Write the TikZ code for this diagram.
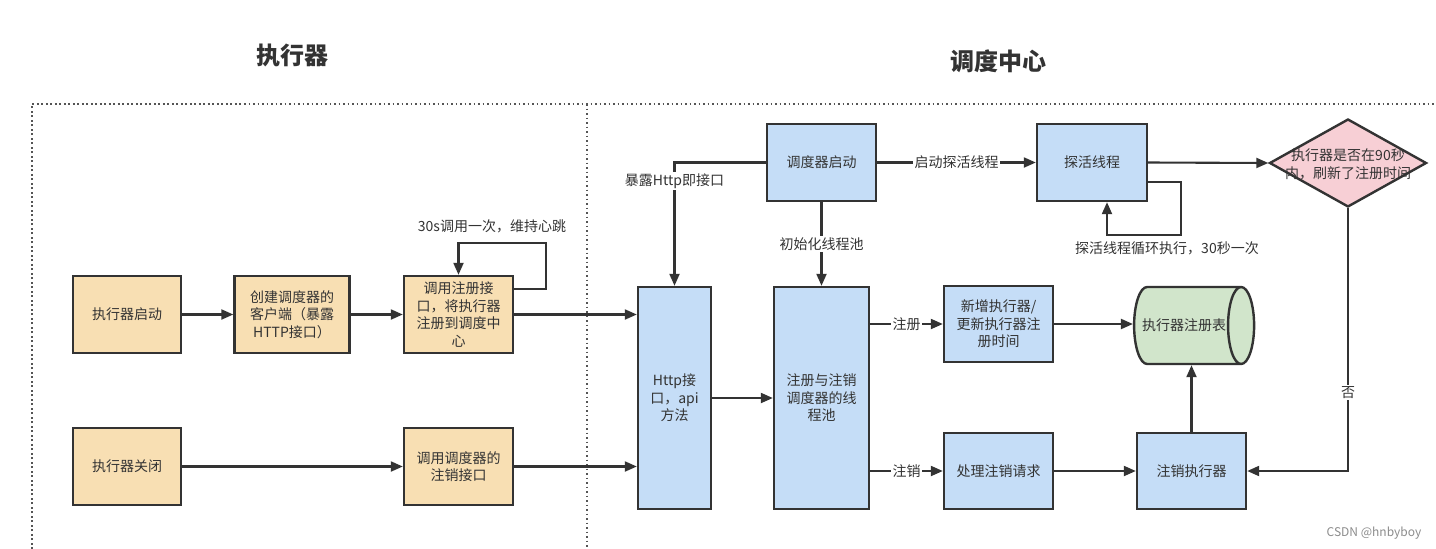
\documentclass[tikz,border=0pt]{standalone}
\usepackage{fontspec}
\setmainfont{Noto Sans CJK SC}
\usetikzlibrary{shapes.geometric,arrows.meta,calc}
\definecolor{lc}{HTML}{333333}
\definecolor{tc}{HTML}{333333}
\definecolor{orangef}{HTML}{F8DFB3}
\definecolor{bluef}{HTML}{C5DDF7}
\definecolor{greenf}{HTML}{D1E5CB}
\definecolor{pinkf}{HTML}{F7CFD5}
\definecolor{framec}{HTML}{555555}
\newcommand{\myfs}{\fontsize{14pt}{17.5pt}\selectfont}
\begin{document}
\begin{tikzpicture}[x=1pt,y=-1pt,
  box/.style={draw=lc, line width=2.4pt, align=center, inner sep=0pt, text=tc, font=\myfs},
  obox/.style={box, fill=orangef, minimum width=109pt, minimum height=77pt},
  bbox/.style={box, fill=bluef, minimum width=109pt, minimum height=77pt},
  arr/.style={draw=lc, line width=2.1pt, -{Triangle[length=12pt,width=10pt]}},
  lbl/.style={fill=white, inner sep=1.5pt, text=tc, font=\myfs},
  frame/.style={draw=framec, line width=1.6pt, dash pattern=on 1.6pt off 2.9pt},
  title/.style={text=tc, font=\fontsize{24pt}{28pt}\selectfont\bfseries}]
\useasboundingbox (0,0) rectangle (1436,549);
\fill[white] (0,0) rectangle (1436,549);

% frames
\draw[frame] (32,549) -- (32,104) -- (1436,104);
\draw[frame] (587,104) -- (587,549);

% titles
\node[title] (t1) at (292,55) {执行器};
\node[title] (t2) at (998,61) {调度中心};

% executor side
\node[obox, minimum width=108pt] (estart) at (127,314.5) {执行器启动};
\node[obox, minimum width=115pt] (eclient) at (292,314.5) {创建调度器的\\客户端（暴露\\HTTP接口）};
\node[obox] (ereg) at (458.5,314.5) {调用注册接\\口，将执行器\\注册到调度中\\心};
\node[obox, minimum width=108pt] (eclose) at (127,466.5) {执行器关闭};
\node[obox] (eunreg) at (458.5,466.5) {调用调度器的\\注销接口};

% scheduler side
\node[bbox] (sstart) at (821.5,162.5) {调度器启动};
\node[bbox, minimum width=110pt] (probe) at (1092,162.5) {探活线程};
\node[bbox, minimum width=73pt, minimum height=222pt] (http) at (674.5,398) {Http接\\口，api\\方法};
\node[bbox, minimum width=95pt, minimum height=222pt] (pool) at (821.5,398) {注册与注销\\调度器的线\\程池};
\node[bbox, minimum height=76pt] (add) at (998.5,324) {新增执行器/\\更新执行器注\\册时间};
\node[bbox, minimum height=76pt] (dereg) at (998.5,471) {处理注销请求};
\node[cylinder, draw=lc, line width=2.4pt, fill=greenf, text=tc, font=\myfs,
      minimum width=77pt, minimum height=120pt, aspect=2.0, inner xsep=-12pt, inner ysep=0pt] (table) at (1187,325.5) {\hspace*{-6pt}执行器注册表};
\node[bbox, minimum height=76pt] (unreg) at (1191.5,471) {注销执行器};
\node[diamond, draw=lc, line width=2.4pt, fill=pinkf, minimum width=157pt, minimum height=88pt, inner sep=0pt] (dia) at (1348,163) {};
\node[align=center, text=tc, font=\fontsize{14pt}{18pt}\selectfont] (diatext) at (1348,164) {执行器是否在90秒\\内，刷新了注册时间};

% executor connectors
\draw[arr] (estart) -- (eclient);
\draw[arr] (eclient) -- (ereg);
\draw[arr] (ereg.east) -- (ereg.east -| http.west);
\draw[arr] ([yshift=-14pt]ereg.north east) -- ++(32,0) |- ([yshift=32pt]ereg.north) -- (ereg.north);
\node[lbl, fill=none] (l30s) at (492,226) {30s调用一次，维持心跳};
\draw[arr] (eclose) -- (eunreg);
\draw[arr] (eunreg.east) -- (eunreg.east -| http.west);

% scheduler connectors
\draw[arr] (sstart.west) -| node[lbl, pos=0.574] (lhttp) {暴露Http即接口} (http.north);
\draw[arr] (sstart.south) -- node[lbl] (lpool) {初始化线程池} (pool.north);
\draw[arr] (sstart.east) -- node[lbl] (lprobe) {启动探活线程} (probe.west);
\draw[arr] ([yshift=20pt]probe.south east) -- ++(33,0) |- ([xshift=15pt,yshift=-33pt]probe.south) -- ([xshift=15pt]probe.south);
\node[lbl, fill=none] (lloop) at (1167,248) {探活线程循环执行，30秒一次};
\draw[arr] (probe.east) -- (dia.west);
\draw[arr] (dia.south) |- node[lbl, pos=0.35] (lno) {否} (unreg.east);
\draw[arr] (http.east) -- (pool.west);
\draw[arr] (add.west -| pool.east) -- node[lbl] (lreg) {注册} (add.west);
\draw[arr] (dereg.west -| pool.east) -- node[lbl] (lunreg) {注销} (dereg.west);
\draw[arr] (add.east) -- (add.east -| table.west);
\draw[arr] (dereg) -- (unreg);
\draw[arr] (unreg.north) -- (unreg.north |- table.south);

% watermark
\node[text=black!45, font=\fontsize{12pt}{14pt}\selectfont] (wm) at (1374,533) {CSDN @hnbyboy};
\end{tikzpicture}
\end{document}
